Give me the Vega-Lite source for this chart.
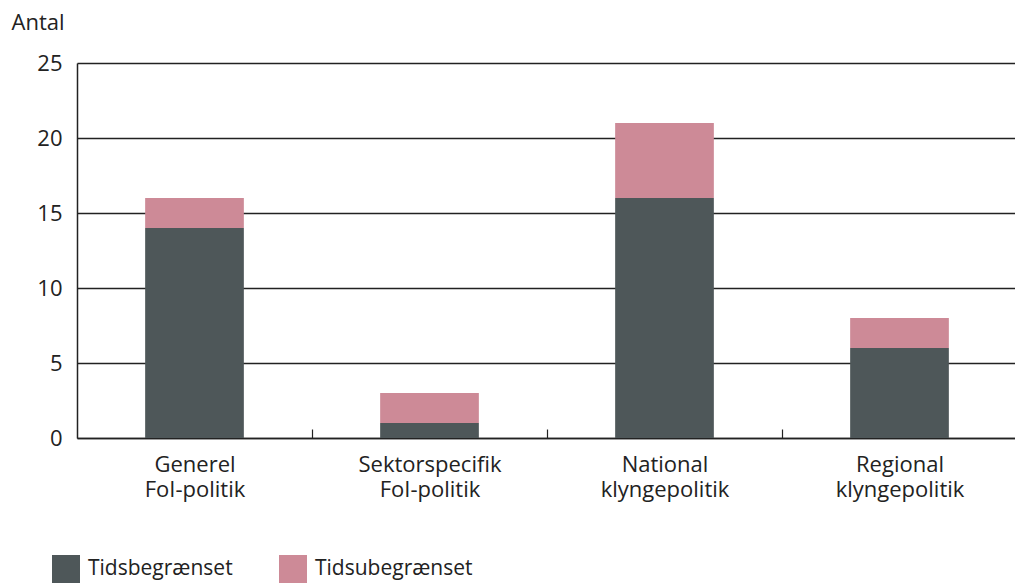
{
  "$schema": "https://vega.github.io/schema/vega-lite/v6.json",
  "width": 940,
  "height": 375,
  "autosize": {"type": "none"},
  "padding": {"left": 77, "top": 63, "right": 0, "bottom": 145},
  "background": "white",
  "config": {
    "view": {"stroke": null},
    "font": "Open Sans",
    "text": {"color": "#222"}
  },
  "data": {
    "values": [
      {"kategori": "Generel|FoI-politik", "type": "Tidsbegrænset", "antal": 14, "ord": 0},
      {"kategori": "Generel|FoI-politik", "type": "Tidsubegrænset", "antal": 2, "ord": 1},
      {"kategori": "Sektorspecifik|FoI-politik", "type": "Tidsbegrænset", "antal": 1, "ord": 0},
      {"kategori": "Sektorspecifik|FoI-politik", "type": "Tidsubegrænset", "antal": 2, "ord": 1},
      {"kategori": "National|klyngepolitik", "type": "Tidsbegrænset", "antal": 16, "ord": 0},
      {"kategori": "National|klyngepolitik", "type": "Tidsubegrænset", "antal": 5, "ord": 1},
      {"kategori": "Regional|klyngepolitik", "type": "Tidsbegrænset", "antal": 6, "ord": 0},
      {"kategori": "Regional|klyngepolitik", "type": "Tidsubegrænset", "antal": 2, "ord": 1}
    ]
  },
  "mark": {"type": "bar"},
  "encoding": {
    "x": {
      "field": "kategori",
      "type": "nominal",
      "sort": null,
      "scale": {"paddingInner": 0.58, "paddingOuter": 0.29},
      "axis": {
        "title": null,
        "labelAngle": 0,
        "labelExpr": "split(datum.label, '|')",
        "labelFontSize": 22,
        "labelColor": "#222",
        "labelLineHeight": 25,
        "labelPadding": 25,
        "labelBaseline": "top",
        "tickOffset": 117.5,
        "labelOffset": -117.5,
        "tickSize": -9,
        "tickColor": "#222",
        "tickWidth": 1.2,
        "domainColor": "#222",
        "domainWidth": 1.5,
        "grid": false
      }
    },
    "y": {
      "field": "antal",
      "type": "quantitative",
      "stack": "zero",
      "scale": {"domain": [0, 25], "nice": false},
      "axis": {
        "values": [0, 5, 10, 15, 20, 25],
        "title": "Antal",
        "titleAngle": 0,
        "titleX": -66,
        "titleY": -34,
        "titleAlign": "left",
        "titleBaseline": "alphabetic",
        "titleFontSize": 22,
        "titleFontWeight": "normal",
        "titleColor": "#222",
        "labelFontSize": 22,
        "labelColor": "#222",
        "labelPadding": 15,
        "ticks": false,
        "grid": true,
        "gridColor": "#222",
        "gridWidth": 1.3,
        "domainColor": "#222",
        "domainWidth": 1.5
      }
    },
    "color": {
      "field": "type",
      "type": "nominal",
      "scale": {"domain": ["Tidsbegrænset", "Tidsubegrænset"], "range": ["#4e5759", "#cd8a97"]},
      "legend": {
        "title": null,
        "orient": "none",
        "direction": "horizontal",
        "legendX": -25,
        "legendY": 492,
        "symbolType": "square",
        "symbolSize": 784,
        "symbolStrokeWidth": 0,
        "symbolOpacity": 1,
        "labelFontSize": 21,
        "labelLimit": 400,
        "labelColor": "#222",
        "labelOffset": 8,
        "columnPadding": 33,
        "gridAlign": "all"
      }
    },
    "order": {"field": "ord", "type": "quantitative"}
  }
}
